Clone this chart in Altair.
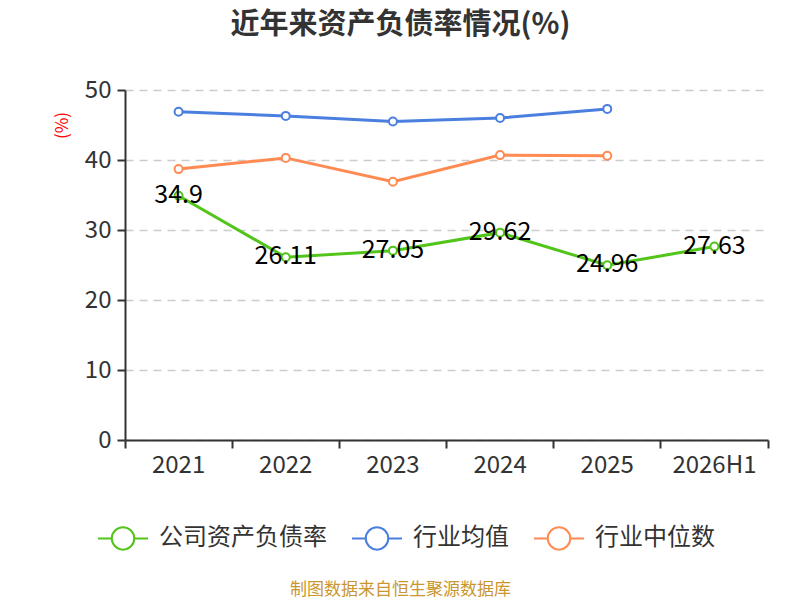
import altair as alt
import pandas as pd

years = ["2021", "2022", "2023", "2024", "2025", "2026H1"]
company = [34.9, 26.11, 27.05, 29.62, 24.96, 27.63]
ind_avg_years = ["2021", "2022", "2023", "2024", "2025"]
ind_avg = [46.9, 46.3, 45.5, 46.0, 47.3]
ind_med = [38.7, 40.3, 36.9, 40.7, 40.6]

series_names = ["公司资产负债率", "行业均值", "行业中位数"]
series_colors = ["#52C41A", "#4A7FE0", "#FF8A52"]

rows = []
for y, v in zip(years, company):
    rows.append({"year": y, "value": v, "series": series_names[0]})
for y, v in zip(ind_avg_years, ind_avg):
    rows.append({"year": y, "value": v, "series": series_names[1]})
for y, v in zip(ind_avg_years, ind_med):
    rows.append({"year": y, "value": v, "series": series_names[2]})
df = pd.DataFrame(rows)
df["label"] = df["value"].map(lambda v: f"{v:g}")

FONT = "Noto Sans CJK SC"

x_enc = alt.X(
    "year:N",
    sort=years,
    scale=alt.Scale(type="band", domain=years, paddingInner=0, paddingOuter=0),
    axis=alt.Axis(
        title="制图数据来自恒生聚源数据库",
        titleColor="#C9962F",
        titleFontSize=17,
        titleFontWeight="normal",
        titleFont=FONT,
        titlePadding=104,
        titleX=275,
        labelAngle=0,
        labelFontSize=24,
        labelColor="#333333",
        labelPadding=5,
        bandPosition=1,
        tickExtra=True,
        tickSize=8,
        tickWidth=2,
        tickColor="#333333",
        domainColor="#333333",
        domainWidth=2,
        grid=False,
        gridOpacity=0,
    ),
)
y_enc = alt.Y(
    "value:Q",
    scale=alt.Scale(domain=[0, 50]),
    axis=alt.Axis(
        title="(%)",
        titleColor="red",
        titleFontSize=17,
        titleFontWeight="normal",
        titleFont=FONT,
        titleX=-63,
        titleY=35,
        titleAlign="center",
        titleBaseline="middle",
        values=[0, 10, 20, 30, 40, 50],
        labelFontSize=24,
        labelColor="#333333",
        labelPadding=6,
        tickSize=8,
        tickWidth=2,
        tickColor="#333333",
        domainColor="#333333",
        domainWidth=2,
        grid=True,
        gridColor="#CCCCCC",
        gridDash=[8, 6],
        gridWidth=1.5,
    ),
)
color_enc = alt.Color(
    "series:N",
    scale=alt.Scale(domain=series_names, range=series_colors),
    sort=series_names,
    legend=alt.Legend(
        title=None,
        orient="none",
        direction="horizontal",
        legendX=-28,
        legendY=422,
        symbolType="M-1,0L-0.45,0M0.45,0A0.45,0.45,0,1,1,-0.45,0A0.45,0.45,0,1,1,0.45,0M0.45,0L1,0",
        symbolSize=2500,
        symbolStrokeWidth=2,
        symbolFillColor="white",
        labelFontSize=24,
        labelColor="#333333",
        labelOffset=10,
        labelLimit=400,
        columnPadding=21,
        labelFont=FONT,
    ),
)

base = alt.Chart(df).encode(x=x_enc, y=y_enc, color=color_enc)

lines = base.mark_line(strokeWidth=3)
points = base.mark_point(shape="circle", filled=False, fill="white", fillOpacity=1,
                         size=64, strokeWidth=2, opacity=1)
labels = alt.Chart(df[df["series"] == series_names[0]]).mark_text(
    fontSize=25, color="#000000", baseline="middle", dy=-1, font=FONT
).encode(x=alt.X("year:N", sort=years), y="value:Q", text="label:N")

chart = (
    alt.layer(lines, points, labels)
    .properties(
        width=643,
        height=350,
        autosize=alt.AutoSizeParams(type="none"),
        padding={"left": 117, "top": 82, "right": 24, "bottom": 160},
        title=alt.TitleParams(
            text="近年来资产负债率情况(%)",
            fontSize=29,
            fontWeight="bold",
            color="#333333",
            font=FONT,
            anchor="middle",
            frame="group",
            dx=-46,
            offset=38,
        ),
    )
    .configure(font=FONT, view=alt.ViewConfig(stroke=None, strokeWidth=0, strokeOpacity=0))
)

chart.save("out.html", embed_options={"renderer": "svg", "actions": False})
